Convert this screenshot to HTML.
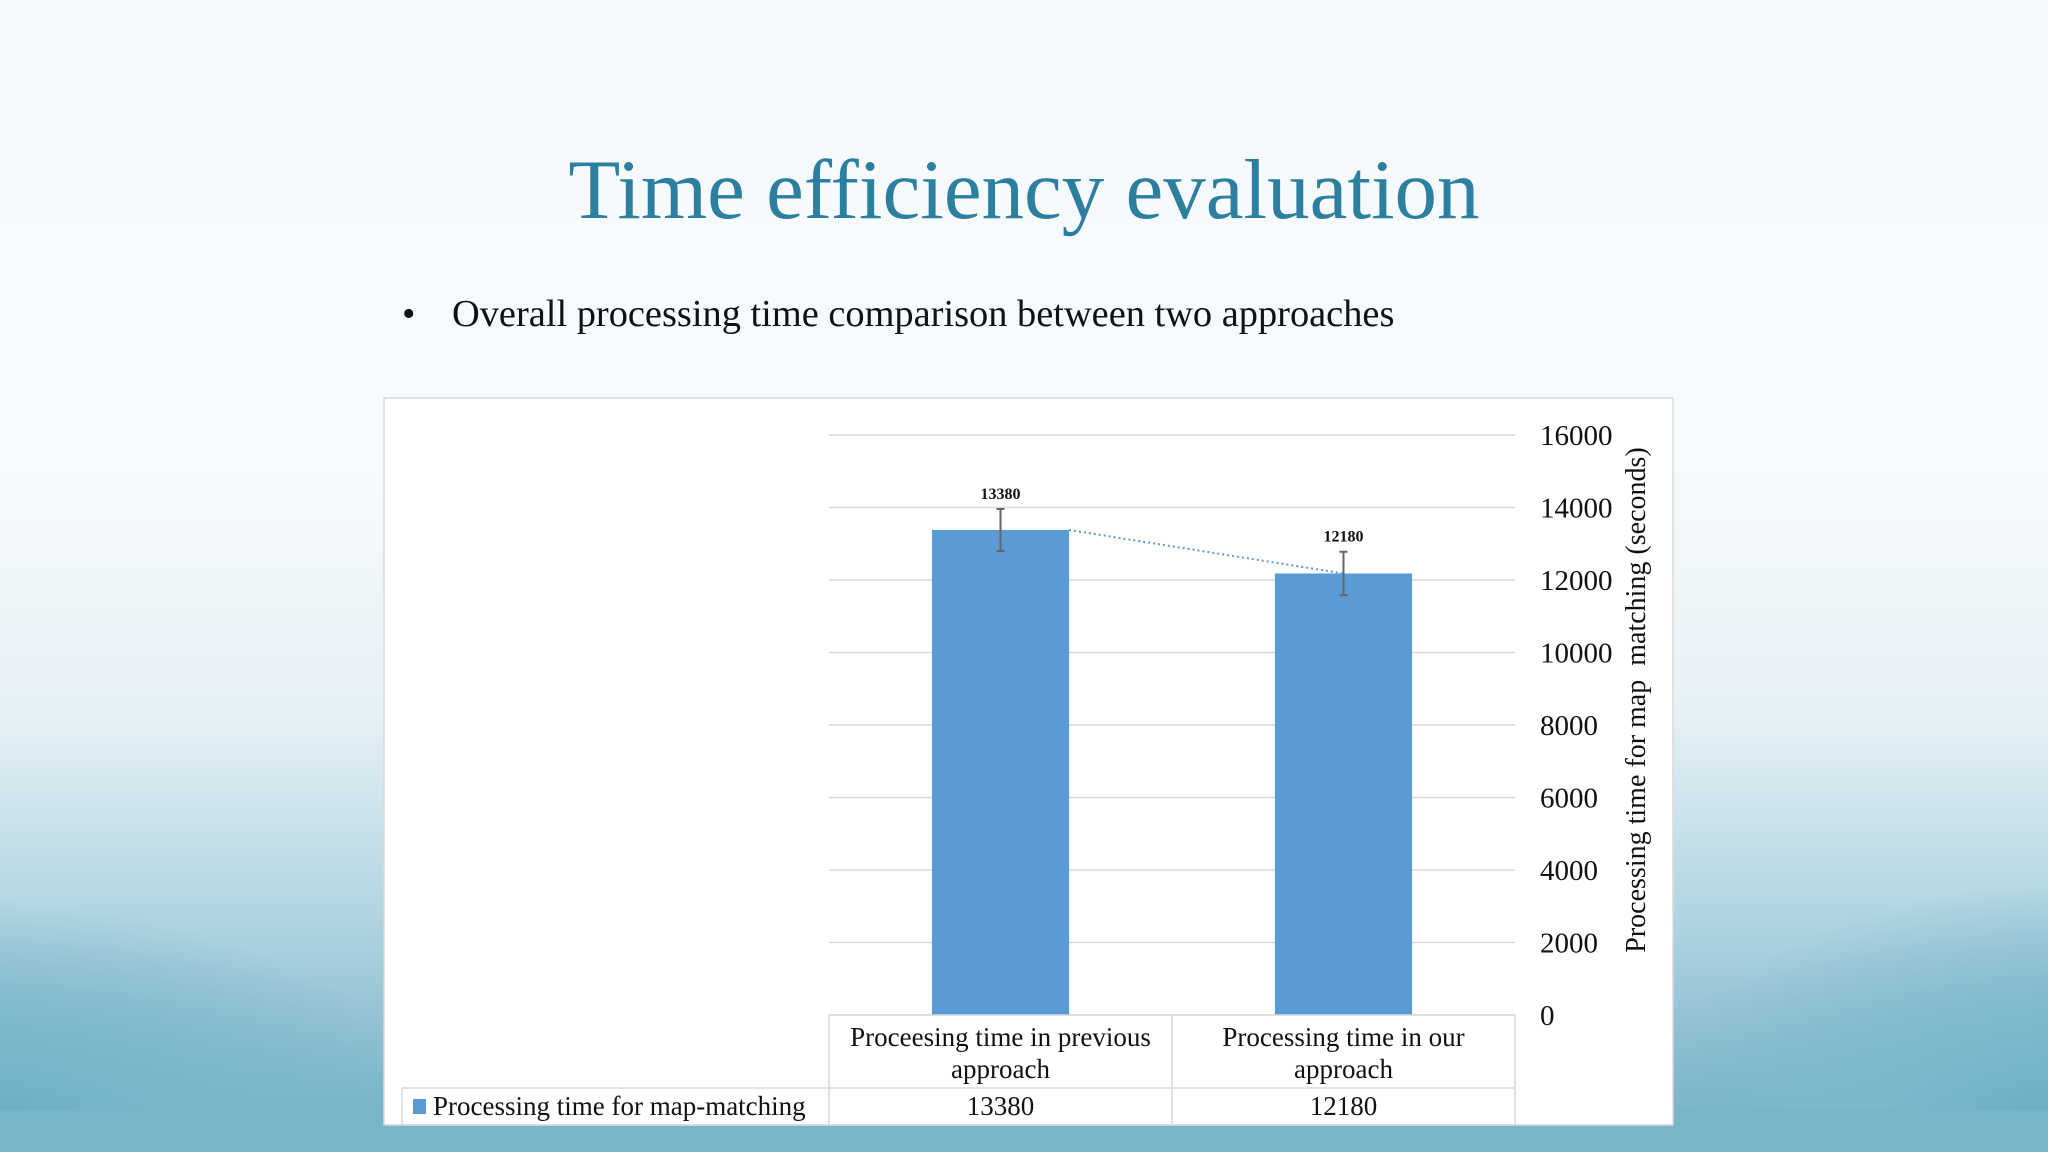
<!DOCTYPE html>
<html><head><meta charset="utf-8"><style>
html,body{margin:0;padding:0;width:2048px;height:1152px;overflow:hidden;}
body{position:relative;font-family:"Liberation Serif",serif;}
#bg{position:absolute;left:0;top:0;width:2048px;height:1152px;
background:
radial-gradient(ellipse 550px 300px at -50px 1200px,#5fa6bf 0%,#79b6ca 50%,rgba(160,205,220,0) 100%),
radial-gradient(ellipse 500px 300px at 2100px 1180px,#5fa6bf 0%,#7cb8cc 50%,rgba(160,205,220,0) 100%),
linear-gradient(180deg,#f4f9fc 0%,#f7fafc 40%,#e6f1f6 62%,#a9d0de 82%,#6fadc3 100%);}
</style></head><body>
<div id="bg">
<div style="position:absolute;left:0;top:1110px;width:2048px;height:42px;background:#78b5c8;"></div>
</div>
<div style="position:absolute;left:0;width:2048px;top:140px;text-align:center;font-size:85px;color:#2d7f9f;line-height:100px;">Time efficiency evaluation</div>
<div style="position:absolute;left:402px;top:291px;font-size:38.4px;color:#111;line-height:46px;">•<span style="position:absolute;left:50px;white-space:nowrap;">Overall processing time comparison between two approaches</span></div>
<svg style="position:absolute;left:0;top:0;display:block" width="2048" height="1152" id="chart"></svg>
<script>
const categories=["Proceesing time in previous|approach","Processing time in our|approach"];
const values=[13380,12180];
const errors=[580,600];
const tickLabels=[0,2000,4000,6000,8000,10000,12000,14000,16000];
const seriesName="Processing time for map-matching";
const NS="http://www.w3.org/2000/svg";
const svg=document.getElementById('chart');
const X0=829,X1=1515,Y0=1015,Y1=435,YMAX=16000;
const y=v=>Y0-(v/YMAX)*(Y0-Y1);
const band=(X1-X0)/categories.length;
const xc=i=>X0+band*(i+0.5);
const BW=band*0.4;
function mk(t,a,p){const e=document.createElementNS(NS,t);for(const k in a)e.setAttribute(k,a[k]);(p||svg).appendChild(e);return e;}
let e=mk('rect',{x:384,y:398,width:1289,height:727,fill:'#fff',stroke:'#d9d9d9','stroke-width':1.5});


tickLabels.forEach(t=>{
 let g=mk('line',{x1:X0,x2:X1,y1:y(t),y2:y(t),stroke:'#d9d9d9','stroke-width':1.5});
 
 
 let l=mk('text',{x:1540,y:y(t)+10,'font-size':29,fill:'#111','font-family':'Liberation Serif'});
 l.textContent=t;
 
 
});
values.forEach((v,i)=>{
 let b=mk('rect',{x:xc(i)-BW/2,y:y(v),width:BW,height:Y0-y(v),fill:'#5b9bd5'});
 
 
 let eb=mk('path',{d:`M${xc(i)},${y(v+errors[i])}V${y(v-errors[i])}M${xc(i)-4},${y(v+errors[i])}h8M${xc(i)-4},${y(v-errors[i])}h8`,stroke:'#666','stroke-width':2,fill:'none'});
 
 
 let lb=mk('text',{x:xc(i),y:y(v+errors[i])-10,'font-size':16,'font-weight':'bold','text-anchor':'middle',fill:'#111','font-family':'Liberation Serif'});
 lb.textContent=v;
 
 
});
let tl=mk('line',{x1:xc(0)+BW/2,y1:y(values[0]),x2:xc(1),y2:y(values[1]),stroke:'#5b9bd5','stroke-width':2,'stroke-dasharray':'2,3'});


const RT=Y0,RM=1088,RB=1125,LX=402;
const tc='#d9d9d9';
[[X0,RT,X1,RT],[X0,RT,X0,RB],[X0+band,RT,X0+band,RB],[X1,RT,X1,RB],[LX,RM,X1,RM],[LX,RM,LX,RB],[LX,RB,X1,RB]].forEach(s=>{
 let ln=mk('line',{x1:s[0],y1:s[1],x2:s[2],y2:s[3],stroke:tc,'stroke-width':1.5});
 
 
});
categories.forEach((c,i)=>{
 c.split('|').forEach((p,j)=>{
  let t=mk('text',{x:xc(i),y:RT+31+j*32,'font-size':27,'text-anchor':'middle',fill:'#111','font-family':'Liberation Serif'});
  t.textContent=p;
  
  
 });
 let t=mk('text',{x:xc(i),y:RB-10,'font-size':27,'text-anchor':'middle',fill:'#111','font-family':'Liberation Serif'});
 t.textContent=values[i];
 
 
});
let key=mk('rect',{x:413,y:1099,width:13,height:15,fill:'#5b9bd5'});


let sn=mk('text',{x:433,y:RB-10,'font-size':27,fill:'#111','font-family':'Liberation Serif'});
sn.textContent=seriesName;


let yt=mk('text',{x:0,y:0,'font-size':28,'text-anchor':'middle',fill:'#111','font-family':'Liberation Serif',transform:'translate(1645,700) rotate(-90)'});
yt.textContent='Processing time for map  matching (seconds)';


yt.style.whiteSpace='pre';
</script>
</body></html>
